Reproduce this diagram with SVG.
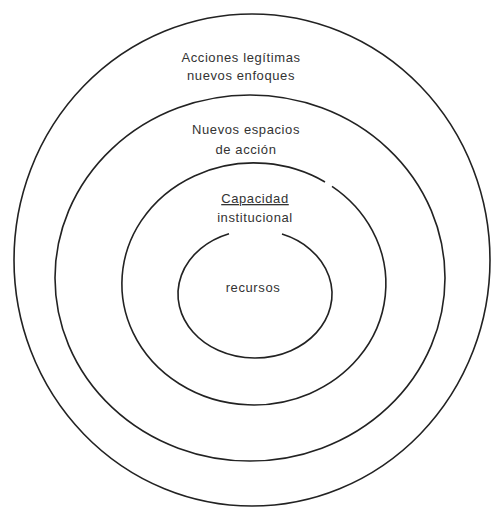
<svg xmlns="http://www.w3.org/2000/svg" width="492" height="508" viewBox="0 0 492 508">
<style>
.ring{fill:none;stroke:#222;stroke-width:1.6}
.t{font-family:"Liberation Sans",Arial,sans-serif;font-size:13px;letter-spacing:0.6px;fill:#333;text-anchor:middle}
</style>
<rect width="492" height="508" fill="#fff"/>
<g id="outer">
<ellipse class="ring" cx="252" cy="260" rx="238" ry="246"/>
<text class="t" x="241" y="62">Acciones legítimas</text>
<text class="t" x="241" y="80">nuevos enfoques</text>
</g>
<g id="second">
<ellipse class="ring" cx="250" cy="278" rx="195" ry="183"/>
<text class="t" x="246" y="134">Nuevos espacios</text>
<text class="t" x="246" y="154">de acción</text>
</g>
<g id="third">
<path class="ring" d="M 332 186.4 A 132 121 0 1 1 325 182"/>
<text class="t" x="255" y="203" text-decoration="underline">Capacidad</text>
<text class="t" x="255" y="222">institucional</text>
</g>
<g id="inner">
<path class="ring" d="M 282 234.1 A 77 64 0 1 1 229 233.8"/>
<text class="t" x="253" y="292">recursos</text>
</g>
</svg>
